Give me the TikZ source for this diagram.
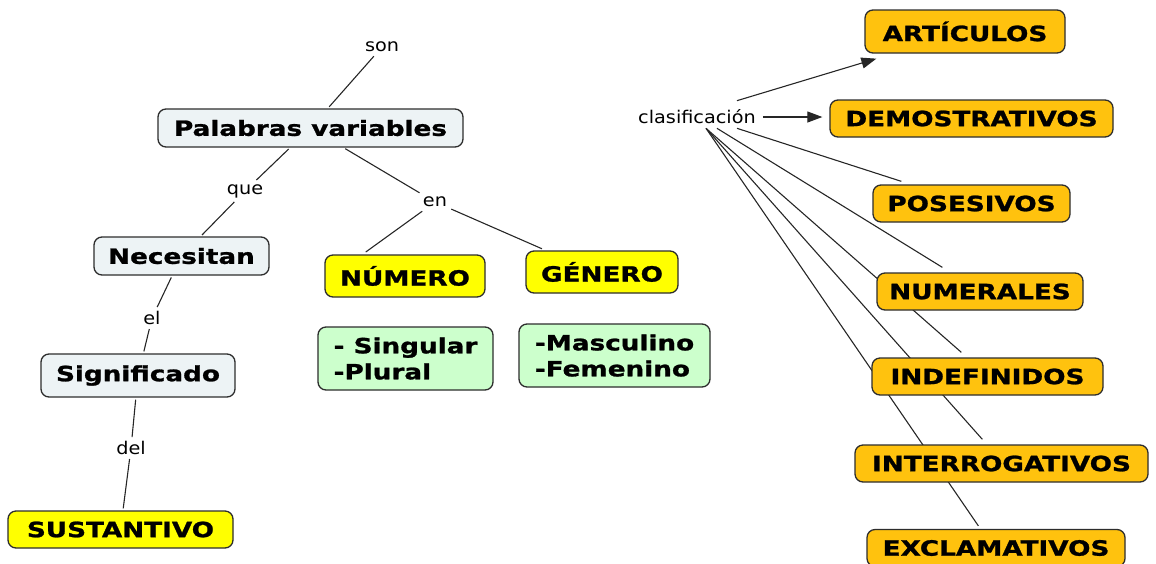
\documentclass[tikz,border=0pt]{standalone}
\usepackage{fontspec}
\setmainfont[FakeStretch=1.25, BoldFeatures={FakeBold=1.2}]{DejaVu Sans}
\newfontfamily\lblfont[FakeStretch=1.1]{DejaVu Sans}
\usetikzlibrary{arrows.meta,backgrounds,calc}
\definecolor{pale}{RGB}{237,243,245}
\definecolor{yel}{RGB}{255,255,0}
\definecolor{org}{RGB}{255,194,14}
\definecolor{grn}{RGB}{204,255,204}
\definecolor{edgec}{RGB}{45,45,45}
\tikzset{
  box/.style={draw=edgec, line width=1.3pt, rounded corners=8pt, inner sep=0pt,
    font=\fontsize{21}{26}\selectfont\bfseries},
  pbox/.style={box, fill=pale},
  ybox/.style={box, fill=yel},
  obox/.style={box, fill=org},
  gbox/.style={box, fill=grn, align=left},
  lbl/.style={font=\lblfont\fontsize{17.5}{20}\selectfont, inner sep=4pt},
  conn/.style={line width=1.1pt, draw=black!85},
  arr/.style={conn, -{Triangle[length=15pt,width=11pt]}}
}
\begin{document}
\begin{tikzpicture}[x=1pt,y=-1pt]
\useasboundingbox (0,0) rectangle (1156,563);
% left concepts
\node[pbox, minimum width=305pt, minimum height=38pt] (pv) at (310.5,128) {Palabras variables};
\node[pbox, minimum width=175pt, minimum height=38pt] (nec) at (181.5,256) {Necesitan};
\node[pbox, minimum width=194pt, minimum height=43pt] (sig) at (138,375.5) {Significado};
\node[ybox, minimum width=225pt, minimum height=37pt] (sus) at (120.5,529.5) {SUSTANTIVO};
\node[ybox, minimum width=160pt, minimum height=42pt] (num) at (405,276) {NÚMERO};
\node[ybox, minimum width=152pt, minimum height=42pt] (gen) at (602,272) {GÉNERO};
\node[gbox, minimum width=175pt, minimum height=63pt] (sing) at (405.5,358.5) {- Singular\\-Plural};
\node[gbox, minimum width=191pt, minimum height=63pt] (masc) at (614.5,355.5) {-Masculino\\-Femenino};
% labels
\node[lbl] (son) at (382,47) {son};
\node[lbl] (que) at (245,191) {que};
\node[lbl] (en) at (435,202) {en};
\node[lbl] (el) at (152,318) {el};
\node[lbl] (del) at (131,448) {del};
\node[lbl, minimum height=20pt] (clas) at (697,117) {clasificación};
% right concepts
\node[obox, minimum width=200pt, minimum height=43pt] (art) at (965,31.5) {ARTÍCULOS};
\node[obox, minimum width=283pt, minimum height=37pt] (dem) at (971.5,118.5) {DEMOSTRATIVOS};
\node[obox, minimum width=197pt, minimum height=37pt] (pos) at (971.5,203.5) {POSESIVOS};
\node[obox, minimum width=206pt, minimum height=37pt] (nume) at (980,291.5) {NUMERALES};
\node[obox, minimum width=231pt, minimum height=37pt] (ind) at (987.5,376.5) {INDEFINIDOS};
\node[obox, minimum width=293pt, minimum height=37pt] (int) at (1001.5,463.5) {INTERROGATIVOS};
\node[obox, minimum width=258pt, minimum height=37pt] (exc) at (996,548) {EXCLAMATIVOS};
% connectors
\begin{scope}[on background layer]
\draw[conn, shorten >=2pt] (son) -- (pv);
\draw[conn, shorten <=2pt] (pv) -- (que);
\draw[conn, shorten >=2pt] (que) -- (nec);
\draw[conn, shorten <=2pt] (pv) -- (en);
\draw[conn, shorten >=4pt] (en) -- (num.153);
\draw[conn, shorten >=4pt] (en) -- (gen.159);
\draw[conn, shorten <=2pt] (nec) -- (el);
\draw[conn, shorten >=2pt] (el) -- (sig);
\draw[conn, shorten <=2pt] (sig) -- (del);
\draw[conn, shorten >=2pt] (del) -- (sus);
\draw[arr] ($(clas.north east)+(-23,-5)$) -- ($(art.south west)+(12,5)$);
\draw[arr, shorten <=3pt, shorten >=7pt] (clas.east) -- (clas.east -| dem.west);
\draw[conn] ($(clas.south)+(40,0)$) -- ($(pos.north west)+(29,-3)$);
\draw[conn] ($(clas.south)+(20,0)$) -- ($(nume.north west)+(66,-5)$);
\draw[conn] ($(clas.south)+(9,0)$) -- ($(ind.north west)+(90,-5)$);
\draw[conn] ($(clas.south)+(9,0)$) -- ($(int.north west)+(128,-5)$);
\draw[conn] ($(clas.south)+(9,0)$) -- ($(exc.north west)+(112,-3)$);
\end{scope}
\end{tikzpicture}
\end{document}
